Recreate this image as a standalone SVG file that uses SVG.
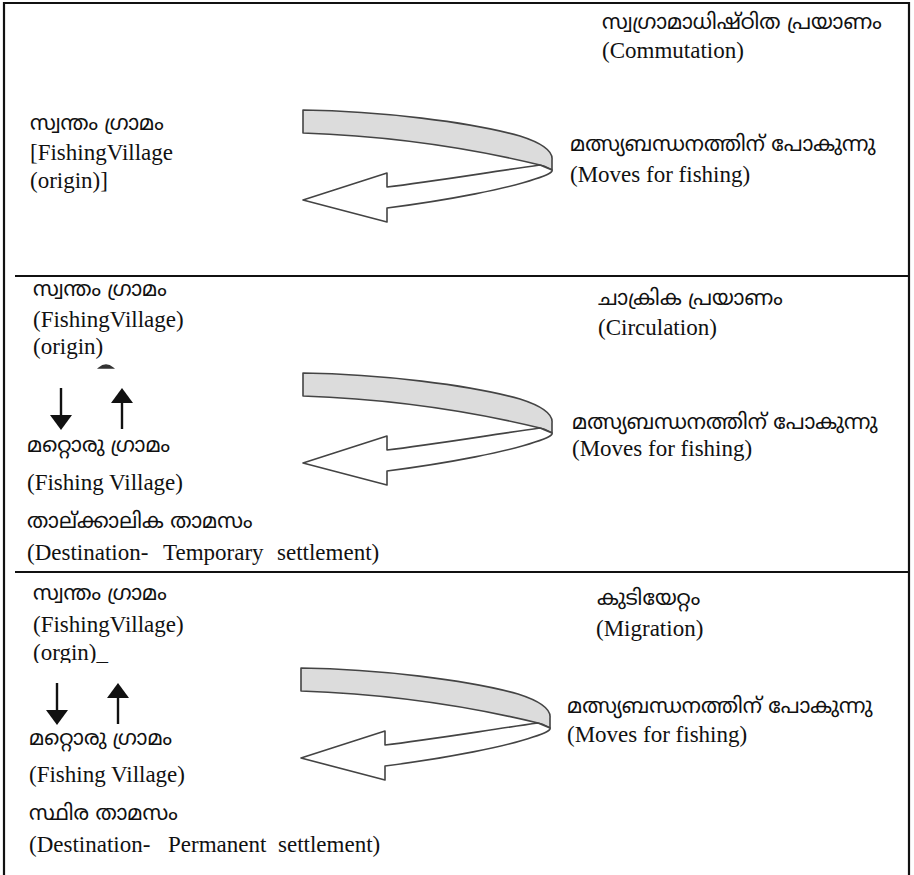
<svg xmlns="http://www.w3.org/2000/svg" width="914" height="875" viewBox="0 0 914 875">
<style>
.en{font-family:"Liberation Serif","Times New Roman",serif;font-size:23px;fill:#111}
.ml{font-family:"Noto Sans Malayalam","Noto Serif Malayalam","Noto Sans","DejaVu Sans",sans-serif;font-size:21px;fill:#111}
.frame{stroke:#111;stroke-width:2.2;fill:none}
.band{fill:#dcdcdc;stroke:#444;stroke-width:1.6;stroke-linejoin:round}
.ret{fill:#fff;stroke:#444;stroke-width:1.6;stroke-linejoin:round}
.shaft{stroke:#111;stroke-width:2.4}
.head{fill:#111}
</style>
<defs>
<g id="swirl">
<path class="band" d="M303,110 C380,111 470,122 520,136 C545,144 553,152 552,160 L552,170 C548,168 545,166 540,165 C470,148 390,136 303,133 Z"/>
<path class="ret" d="M540,165 C490,172 430,182 387,187 L387,173 L303,200 L387,222 L387,208 C450,200 510,188 535,179 C548,175 553,172 552,170 Z"/>
</g>
<g id="updown">
<line class="shaft" x1="0" y1="0" x2="0" y2="30"/>
<polygon class="head" points="-11,27 11,27 0,42"/>
<line class="shaft" x1="61" y1="12" x2="61" y2="41"/>
<polygon class="head" points="50,15 72,15 61,0"/>
</g>
</defs>
<g id="frame">
<polyline class="frame" points="4,875 4,3 909,3 909,875"/>
<line class="frame" x1="15" y1="276" x2="908" y2="276"/>
<line class="frame" x1="15" y1="572" x2="908" y2="572"/>
</g>
<g id="connectors">
<use href="#swirl"/>
<use href="#swirl" transform="translate(0,263)"/>
<use href="#swirl" transform="translate(-2,558)"/>
<use href="#updown" transform="translate(61,388)"/>
<use href="#updown" transform="translate(57,683)"/>
</g>
<g id="panel1-origin">
<text class="ml" x="30" y="130">സ്വന്തം ഗ്രാമം</text>
<text class="en" x="30" y="160">[FishingVillage</text>
<text class="en" x="30" y="188">(origin)]</text>
</g>
<g id="panel1-title">
<text class="ml" x="602" y="29">സ്വഗ്രാമാധിഷ്ഠിത പ്രയാണം</text>
<text class="en" x="602" y="58">(Commutation)</text>
</g>
<g id="panel1-moves">
<text class="ml" x="570" y="151">മത്സ്യബന്ധനത്തിന് പോകുന്നു</text>
<text class="en" x="570" y="182">(Moves for fishing)</text>
</g>
<g id="panel2-origin">
<text class="ml" x="33" y="296">സ്വന്തം ഗ്രാമം</text>
<text class="en" x="33" y="327">(FishingVillage)</text>
<text class="en" x="33" y="354">(origin)</text>
<path d="M99,368 Q106,362 113,368 Z" stroke="#333" stroke-width="1.5" fill="#333"/>
</g>
<g id="panel2-destination">
<text class="ml" x="27" y="452">മറ്റൊരു ഗ്രാമം</text>
<text class="en" x="27" y="490">(Fishing Village)</text>
<text class="ml" x="27" y="528">താല്ക്കാലിക താമസം</text>
<text class="en" x="27" y="560">(Destination-<tspan x="163">Temporary</tspan><tspan x="277">settlement)</tspan></text>
</g>
<g id="panel2-title">
<text class="ml" x="598" y="305">ചാക്രിക പ്രയാണം</text>
<text class="en" x="598" y="335">(Circulation)</text>
</g>
<g id="panel2-moves">
<text class="ml" x="572" y="429">മത്സ്യബന്ധനത്തിന് പോകുന്നു</text>
<text class="en" x="572" y="456">(Moves for fishing)</text>
</g>
<g id="panel3-origin">
<text class="ml" x="33" y="600">സ്വന്തം ഗ്രാമം</text>
<text class="en" x="33" y="632">(FishingVillage)</text>
<text class="en" x="33" y="660">(orgin)_</text>
<rect x="25" y="663" width="140" height="10" fill="#fff"/>
</g>
<g id="panel3-destination">
<text class="ml" x="29" y="745">മറ്റൊരു ഗ്രാമം</text>
<text class="en" x="29" y="782">(Fishing Village)</text>
<text class="ml" x="29" y="820">സ്ഥിര താമസം</text>
<text class="en" x="29" y="852">(Destination-<tspan x="168">Permanent</tspan><tspan x="278">settlement)</tspan></text>
</g>
<g id="panel3-title">
<text class="ml" x="597" y="605">കുടിയേറ്റം</text>
<text class="en" x="596" y="636">(Migration)</text>
</g>
<g id="panel3-moves">
<text class="ml" x="567" y="713">മത്സ്യബന്ധനത്തിന് പോകുന്നു</text>
<text class="en" x="567" y="742">(Moves for fishing)</text>
</g>
</svg>
